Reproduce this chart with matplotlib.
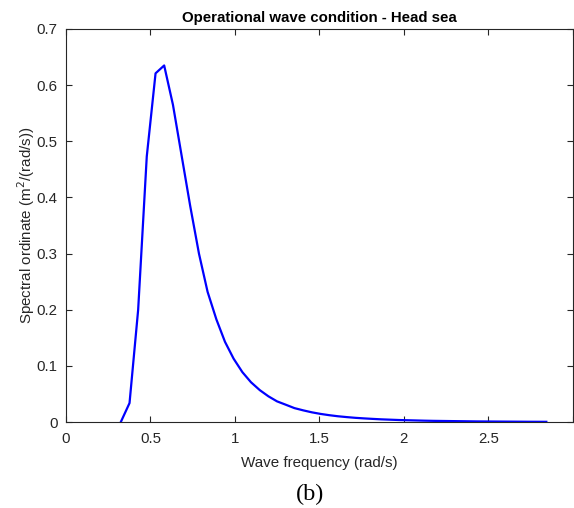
import matplotlib
matplotlib.use("Agg")
import matplotlib.pyplot as plt

# -----------------------------
# Data
freq = [0.324, 0.376, 0.427, 0.478, 0.530, 0.581, 0.633, 0.684, 0.735, 0.787,
        0.838, 0.890, 0.941, 0.992, 1.044, 1.095, 1.147, 1.198, 1.249, 1.301,
        1.352, 1.404, 1.455, 1.506, 1.558, 1.609, 1.661, 1.712, 1.763, 1.815,
        1.866, 1.918, 1.969, 2.020, 2.072, 2.123, 2.175, 2.226, 2.277, 2.329,
        2.380, 2.432, 2.483, 2.534, 2.586, 2.637, 2.689, 2.740, 2.791, 2.843]
spectrum = [0.0, 0.034, 0.20, 0.473, 0.621, 0.635, 0.565, 0.475, 0.385, 0.300,
            0.232, 0.183, 0.143, 0.113, 0.089, 0.071, 0.057, 0.046, 0.037, 0.031,
            0.025, 0.021, 0.0175, 0.0147, 0.0124, 0.0105, 0.0090, 0.0077, 0.0067, 0.0058,
            0.0050, 0.0044, 0.0038, 0.0034, 0.0030, 0.0026, 0.0023, 0.0021, 0.0019, 0.0017,
            0.0015, 0.0013, 0.0012, 0.0011, 0.0010, 0.0009, 0.0008, 0.0007, 0.00065, 0.0006]
xticks = [0, 0.5, 1, 1.5, 2, 2.5, 3]
# the "3" label falls off the right edge of the original figure
xtick_labels = ["0", "0.5", "1", "1.5", "2", "2.5", ""]
yticks = [0, 0.1, 0.2, 0.3, 0.4, 0.5, 0.6, 0.7]
ytick_labels = ["0", "0.1", "0.2", "0.3", "0.4", "0.5", "0.6", "0.7"]

# -----------------------------
plt.rcParams["font.family"] = ["Liberation Sans", "DejaVu Sans"]
grey = "#262626"

fig = plt.figure(figsize=(5.74, 5.08), dpi=100)
ax = fig.add_axes([0.115, 0.169, 0.883, 0.774])

ax.plot(freq, spectrum, color=(0, 0, 1), linewidth=1.6)

ax.set_xlim(0, 3)
ax.set_ylim(0, 0.7)
ax.set_xticks(xticks)
ax.set_xticklabels(xtick_labels)
ax.set_yticks(yticks)
ax.set_yticklabels(ytick_labels)
ax.tick_params(direction="in", length=4, width=0.8, colors=grey, labelsize=10.8,
               top=True, right=True, labelcolor=grey)
ax.tick_params(axis="x", pad=7)
ax.tick_params(axis="y", pad=6)
for s in ax.spines.values():
    s.set_color(grey)
    s.set_linewidth(0.8)

ax.set_title("Operational wave condition - Head sea", fontsize=10.8,
             fontweight="bold", color="black", pad=5)
ax.set_xlabel("Wave frequency (rad/s)", fontsize=10.9, color=grey, labelpad=7)
ax.set_ylabel("Spectral ordinate (m$^2$/(rad/s))", fontsize=10.9, color=grey, labelpad=0)

fig.text(0.54, 0.027, "(b)", fontsize=17.5, family="Liberation Serif",
         ha="center", va="center")

fig.savefig("out.png", dpi=100)
